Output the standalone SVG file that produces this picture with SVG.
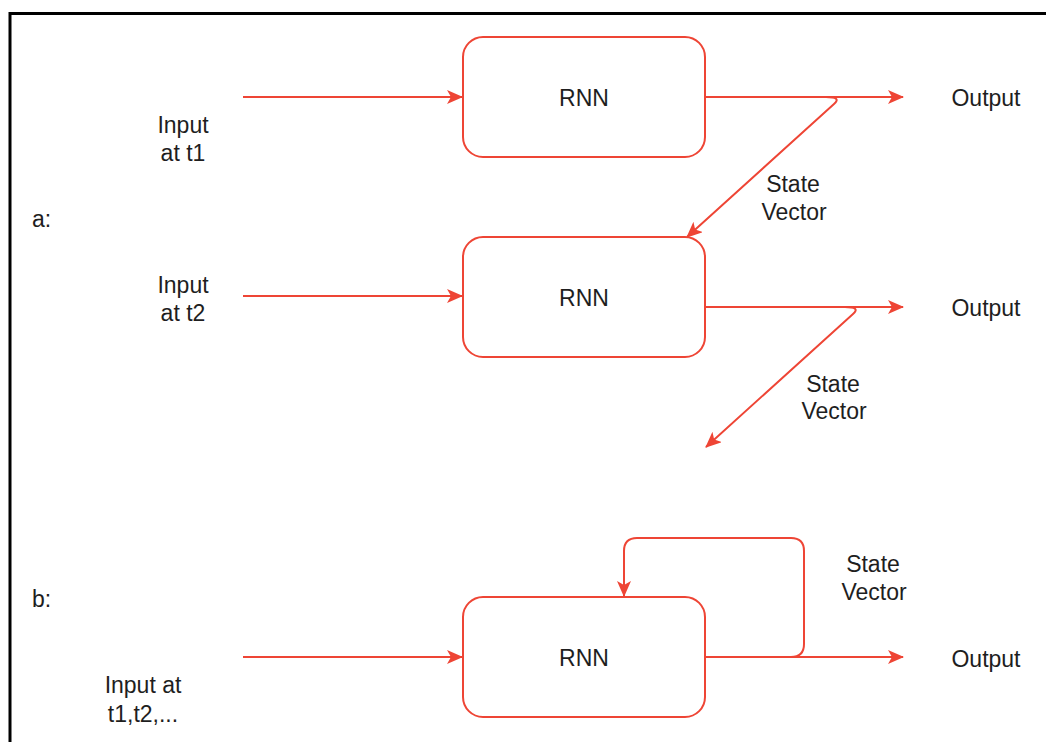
<svg xmlns="http://www.w3.org/2000/svg" width="1046" height="742" viewBox="0 0 1046 742">
<defs>
<style>
.box{fill:#fff;stroke:#EE4535;stroke-width:2}
.ln{fill:none;stroke:#EE4535;stroke-width:2}
.t{font-family:"Liberation Sans",Arial,sans-serif;font-size:23px;fill:#1e1e1e}
.c{text-anchor:middle}
</style>
<marker id="ah" viewBox="0 0 16 14" markerWidth="16" markerHeight="14" refX="15" refY="7" orient="auto" markerUnits="userSpaceOnUse">
<path d="M0,0 L16,7 L0,14 L4,7 Z" fill="#EE4535"/>
</marker>
</defs>
<rect width="1046" height="742" fill="#fff"/>
<path d="M10,742 V13.5 H1046" fill="none" stroke="#000" stroke-width="3"/>
<text class="t" x="32" y="227">a:</text>
<text class="t" x="32" y="607">b:</text>
<g id="connectors">
<path class="ln" d="M243,97 H462" marker-end="url(#ah)"/>
<path class="ln" d="M705,97 H903" marker-end="url(#ah)"/>
<path class="ln" d="M826,97 Q842,97 834,104 L687,237" marker-end="url(#ah)"/>
<path class="ln" d="M243,296 H462" marker-end="url(#ah)"/>
<path class="ln" d="M705,307 H903" marker-end="url(#ah)"/>
<path class="ln" d="M845,307 Q861,307 853,314 L706,447" marker-end="url(#ah)"/>
<path class="ln" d="M243,657 H462" marker-end="url(#ah)"/>
<path class="ln" d="M705,657 H903" marker-end="url(#ah)"/>
<path class="ln" d="M705,657 H791 Q804,657 804,644 V551 Q804,538 791,538 H637 Q624,538 624,551 V596" marker-end="url(#ah)"/>
</g>
<g id="rnn1"><rect class="box" x="463" y="37" width="242" height="120" rx="20"/><text class="t c" x="584" y="106">RNN</text></g>
<g id="rnn2"><rect class="box" x="463" y="237" width="242" height="120" rx="20"/><text class="t c" x="584" y="306">RNN</text></g>
<g id="rnn3"><rect class="box" x="463" y="597" width="242" height="120" rx="20"/><text class="t c" x="584" y="666">RNN</text></g>
<g id="in1"><text class="t c" x="183" y="133">Input</text><text class="t c" x="183" y="161">at t1</text></g>
<g id="in2"><text class="t c" x="183" y="293">Input</text><text class="t c" x="183" y="321">at t2</text></g>
<g id="in3"><text class="t c" x="143" y="693">Input at</text><text class="t c" x="143" y="722">t1,t2,...</text></g>
<g id="out1"><text class="t c" x="986" y="106">Output</text></g>
<g id="out2"><text class="t c" x="986" y="316">Output</text></g>
<g id="out3"><text class="t c" x="986" y="667">Output</text></g>
<g id="sv1"><text class="t c" x="793" y="192">State</text><text class="t c" x="794" y="220">Vector</text></g>
<g id="sv2"><text class="t c" x="833" y="392">State</text><text class="t c" x="834" y="419">Vector</text></g>
<g id="sv3"><text class="t c" x="873" y="572">State</text><text class="t c" x="874" y="600">Vector</text></g>
</svg>
